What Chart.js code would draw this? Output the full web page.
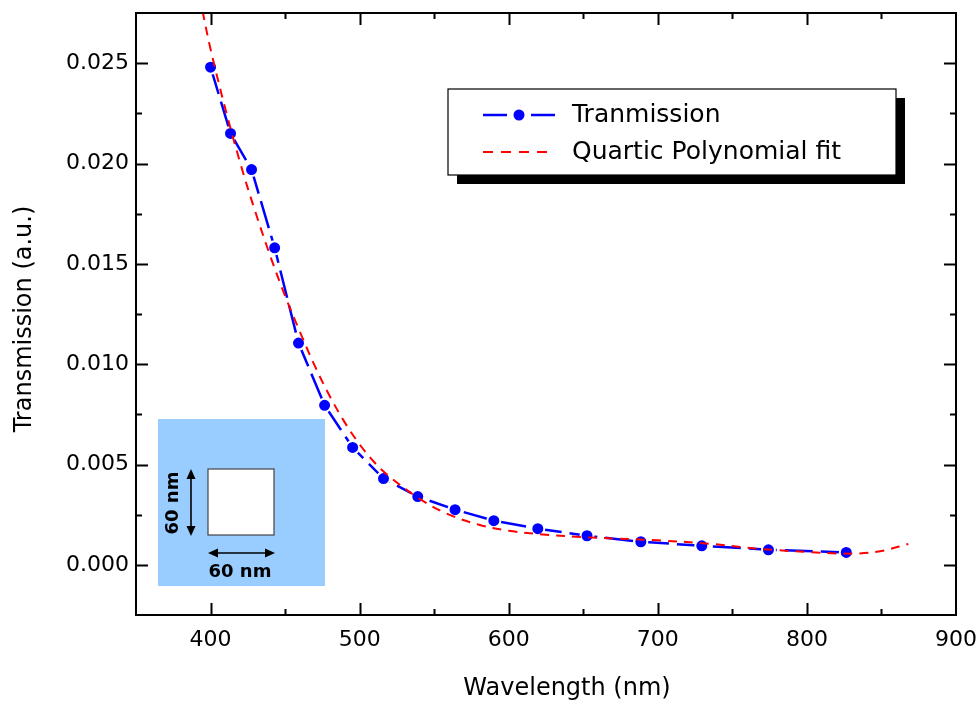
<!DOCTYPE html>
<html>
<head>
<meta charset="utf-8">
<script src="https://cdn.jsdelivr.net/npm/chart.js@4/dist/chart.umd.min.js"></script>
<style>
  html, body { margin: 0; padding: 0; background: #fff; }
  #wrap { width: 978px; height: 704px; }
</style>
</head>
<body>
<div id="wrap"><canvas id="c" width="978" height="704"></canvas></div>
<script>
// Measured transmission of the 60 nm x 60 nm aperture
const wavelength = [400, 413.4, 427.5, 443, 459, 476.5, 495.3, 516, 539, 564, 590, 619.5, 652.5, 688.6, 729.5, 774.2, 826.4];
const transmission = [0.0248, 0.0215, 0.0197, 0.0158, 0.01105, 0.00795, 0.00585, 0.0043, 0.0034, 0.00275, 0.0022, 0.0018, 0.00145, 0.00115, 0.00095, 0.00075, 0.00062];

// Quartic polynomial fit curve, sampled along the plotted curve
const fitWavelength = [394.6, 400, 410, 420, 430, 440, 450, 460, 470, 480, 490, 500, 510, 520, 540, 560, 580, 600, 625, 650, 700, 735, 760, 780, 800, 820, 835, 850, 868];
const fitTransmission = [0.0276, 0.0257, 0.0227, 0.0200, 0.0176, 0.0154, 0.0134, 0.0116, 0.0099, 0.0084, 0.0071, 0.0060, 0.0051, 0.0044, 0.0033, 0.0025, 0.0020, 0.0017, 0.0015, 0.00138, 0.00122, 0.00105, 0.00085, 0.00073, 0.00064, 0.00057, 0.00057, 0.00069, 0.00104];

// Axis tick values
const xTickValues = [400, 500, 600, 700, 800, 900];
const yTickValues = [0, 0.005, 0.010, 0.015, 0.020, 0.025];

const seriesNames = ['Tranmission', 'Quartic Polynomial fit'];
const xTitle = 'Wavelength (nm)';
const yTitle = 'Transmission (a.u.)';
const insetLabel = '60 nm';

const BLUE = '#0000ff';
const RED = '#ff0000';
const FONT = '"DejaVu Sans", Verdana, sans-serif';

function toPoints(xs, ys) { return xs.map((x, i) => ({ x: x, y: ys[i] })); }

// Boxed frame with inward major/minor ticks on all four sides, plus axis titles
const frameTicks = {
  id: 'frameTicks',
  afterDraw(chart) {
    const { ctx, chartArea: a, scales: { x, y } } = chart;
    ctx.save();
    ctx.strokeStyle = '#000';
    ctx.lineWidth = 2;
    ctx.strokeRect(a.left, a.top, a.right - a.left, a.bottom - a.top);
    const major = 12, minor = 6;
    const withMinor = vals => {
      const out = [];
      vals.forEach((v, i) => { out.push([v, major]); if (i < vals.length - 1) out.push([(v + vals[i + 1]) / 2, minor]); });
      return out;
    };
    withMinor(x.ticks.map(t => t.value)).forEach(([v, len]) => {
      const p = Math.round(x.getPixelForValue(v)) + 0.5;
      if (p <= a.left + 1 || p >= a.right - 1) return;
      ctx.beginPath();
      ctx.moveTo(p, a.bottom); ctx.lineTo(p, a.bottom - len);
      ctx.moveTo(p, a.top); ctx.lineTo(p, a.top + len);
      ctx.stroke();
    });
    withMinor(y.ticks.map(t => t.value)).forEach(([v, len]) => {
      const p = Math.round(y.getPixelForValue(v)) + 0.5;
      if (p <= a.top + 1 || p >= a.bottom - 1) return;
      ctx.beginPath();
      ctx.moveTo(a.left, p); ctx.lineTo(a.left + len, p);
      ctx.moveTo(a.right, p); ctx.lineTo(a.right - len, p);
      ctx.stroke();
    });
    // axis titles
    ctx.fillStyle = '#000';
    ctx.font = '24px ' + FONT;
    ctx.textAlign = 'center';
    ctx.textBaseline = 'middle';
    ctx.fillText(xTitle, a.left + 431, 689);
    ctx.translate(25, a.top + 306);
    ctx.rotate(-Math.PI / 2);
    ctx.fillText(yTitle, 0, 0);
    ctx.restore();
  }
};

// Legend box with drop shadow
const shadowLegend = {
  id: 'shadowLegend',
  afterDraw(chart) {
    const { ctx } = chart;
    const bx = 448, by = 89, bw = 448, bh = 86, sh = 9;
    ctx.save();
    ctx.fillStyle = '#000';
    ctx.fillRect(bx + sh, by + sh, bw, bh);
    ctx.fillStyle = '#fff';
    ctx.fillRect(bx, by, bw, bh);
    ctx.strokeStyle = '#000';
    ctx.lineWidth = 1.2;
    ctx.strokeRect(bx, by, bw, bh);

    const r1 = by + 26, r2 = by + 63;
    const x0 = bx + 35, x1 = bx + 107, xm = (x0 + x1) / 2;
    // measured series sample: line broken around the marker
    ctx.strokeStyle = BLUE;
    ctx.lineWidth = 2.5;
    ctx.beginPath();
    ctx.moveTo(x0, r1); ctx.lineTo(xm - 12, r1);
    ctx.moveTo(xm + 12, r1); ctx.lineTo(x1, r1);
    ctx.stroke();
    ctx.fillStyle = BLUE;
    ctx.beginPath(); ctx.arc(xm, r1, 5.5, 0, Math.PI * 2); ctx.fill();
    // fit sample
    ctx.strokeStyle = RED;
    ctx.lineWidth = 2;
    ctx.setLineDash([10, 8]);
    ctx.beginPath(); ctx.moveTo(x0, r2); ctx.lineTo(x1, r2); ctx.stroke();
    ctx.setLineDash([]);

    ctx.fillStyle = '#000';
    ctx.font = '25px ' + FONT;
    ctx.textAlign = 'left';
    ctx.textBaseline = 'middle';
    ctx.fillText(chart.data.datasets[0].label, bx + 124, r1);
    ctx.fillText(chart.data.datasets[1].label, bx + 124, r2);
    ctx.restore();
  }
};

// Inset sketch of the square aperture
function arrowHead(ctx, x, y, dx, dy) {
  const L = 10, W = 4.5;
  ctx.beginPath();
  ctx.moveTo(x, y);
  ctx.lineTo(x - dx * L - dy * W, y - dy * L + dx * W);
  ctx.lineTo(x - dx * L + dy * W, y - dy * L - dx * W);
  ctx.closePath();
  ctx.fill();
}
const apertureInset = {
  id: 'apertureInset',
  afterDatasetsDraw(chart) {
    const { ctx, chartArea: a } = chart;
    const L = a.left, B = a.bottom;
    ctx.save();
    ctx.fillStyle = '#99ccff';
    ctx.fillRect(L + 22, B - 196, 167, 167);
    // aperture
    ctx.fillStyle = '#fff';
    ctx.fillRect(L + 72, B - 146, 66, 66);
    ctx.strokeStyle = '#444';
    ctx.lineWidth = 1.2;
    ctx.strokeRect(L + 72, B - 146, 66, 66);
    // dimension arrows
    ctx.strokeStyle = '#000';
    ctx.fillStyle = '#000';
    ctx.lineWidth = 1.6;
    const vx = L + 55;
    ctx.beginPath(); ctx.moveTo(vx, B - 143); ctx.lineTo(vx, B - 82); ctx.stroke();
    arrowHead(ctx, vx, B - 146, 0, -1);
    arrowHead(ctx, vx, B - 79, 0, 1);
    const hy = B - 62;
    ctx.beginPath(); ctx.moveTo(L + 75, hy); ctx.lineTo(L + 136, hy); ctx.stroke();
    arrowHead(ctx, L + 72, hy, -1, 0);
    arrowHead(ctx, L + 139, hy, 1, 0);
    ctx.font = 'bold 18px ' + FONT;
    ctx.textAlign = 'center';
    ctx.textBaseline = 'middle';
    ctx.fillText(insetLabel, L + 104, B - 43);
    ctx.translate(L + 37, B - 112);
    ctx.rotate(-Math.PI / 2);
    ctx.fillText(insetLabel, 0, 0);
    ctx.restore();
  }
};

new Chart(document.getElementById('c'), {
  type: 'line',
  data: {
    datasets: [
      {
        label: seriesNames[0],
        data: toPoints(wavelength, transmission),
        borderColor: BLUE,
        backgroundColor: BLUE,
        borderWidth: 2.5,
        borderDash: [28, 8],
        tension: 0,
        pointRadius: 6.5,
        pointBackgroundColor: BLUE,
        pointBorderColor: '#fff',
        pointBorderWidth: 2,
        order: 2
      },
      {
        label: seriesNames[1],
        data: toPoints(fitWavelength, fitTransmission),
        borderColor: RED,
        borderWidth: 2,
        borderDash: [9, 7],
        tension: 0.35,
        pointRadius: 0,
        order: 1
      }
    ]
  },
  options: {
    responsive: false,
    animation: false,
    devicePixelRatio: 1,
    layout: { padding: { top: 13, right: 22, left: 0, bottom: 0 } },
    plugins: { legend: { display: false }, tooltip: { enabled: false } },
    scales: {
      x: {
        type: 'linear',
        min: 350, max: 900,
        grid: { display: false, drawTicks: false },
        border: { display: false },
        ticks: {
          padding: 12, color: '#000', font: { family: FONT, size: 22 },
          maxRotation: 0
        },
        afterBuildTicks(s) { s.ticks = xTickValues.map(v => ({ value: v })); },
        afterFit(s) { s.height = 89; s.paddingLeft = 0; s.paddingRight = 0; }
      },
      y: {
        type: 'linear',
        min: -0.0025, max: 0.0275,
        grid: { display: false, drawTicks: false },
        border: { display: false },
        ticks: {
          padding: 7, color: '#000', font: { family: FONT, size: 22 },
          callback: v => v.toFixed(3)
        },
        afterBuildTicks(s) { s.ticks = yTickValues.map(v => ({ value: v })); },
        afterFit(s) { s.width = 136; s.paddingTop = 0; s.paddingBottom = 0; }
      }
    }
  },
  plugins: [frameTicks, shadowLegend, apertureInset]
});
</script>
</body>
</html>
